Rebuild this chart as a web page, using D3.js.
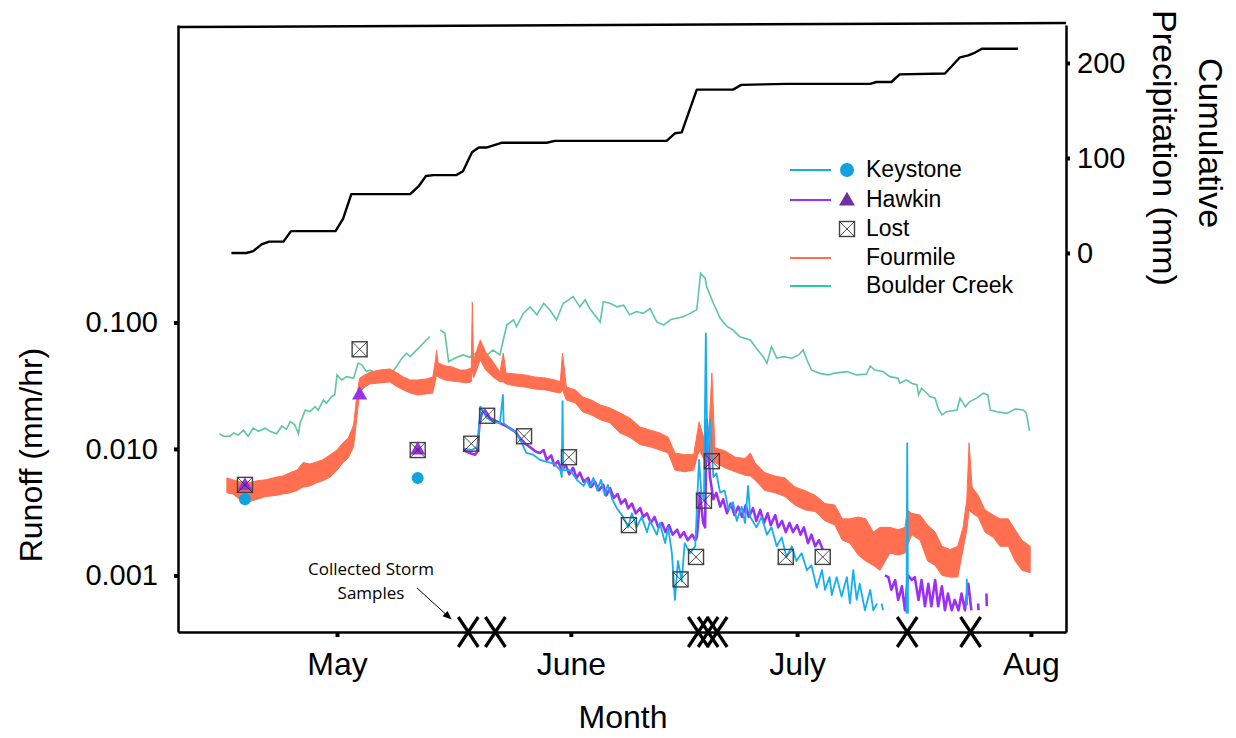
<!DOCTYPE html>
<html>
<head>
<meta charset="utf-8">
<script src="https://cdn.jsdelivr.net/npm/d3@7"></script>
<style>
body { margin: 0; background: #fff; }
svg { display: block; font-family: "Liberation Sans", Arial, sans-serif; }
</style>
</head>
<body>
<svg id="chart" width="1236" height="738"></svg>
<script>
// time is in days after 1 April
const monthT = [30, 61, 91, 122];
const monthLabels = ["May", "June", "July", "Aug"];
const runoffTicks = [0.001, 0.01, 0.1];
const precipTicks = [0, 100, 200];

const precipT = [16,18,18.9,20,21,22.9,23.9,29.8,30.8,31.9,39.7,40.8,41.8,42.8,45.8,46.7,47.9,48.8,49.8,51.8,57.8,58.9,60.9,73.7,74.8,75.7,77.7,82.5,83.6,89.6,100.7,101.5,103.5,104.6,110.6,112.6,113.7,114.6,115.5,120.3];
const precipMm = [0,0,2,9,12,12,23,23,36,62,62,70,81,82,82,86,106,111,111,116,116,118,118,118,126,127,172,172,177,178,178,180,180,188,189,206,208,211,215,215];

const boulderT = [14.4,14.9,15.8,16.3,16.9,17.6,18.2,18.9,19.6,20.5,
  21.1,22.0,22.7,23.3,23.8,24.4,24.9,25.1,25.8,26.4,
  27.1,27.5,28.2,28.6,29.3,29.7,30.0,30.6,31.3,32.2,
  32.8,33.3,33.9,34.4,35.3,36.1,37.0,37.9,38.6,39.2,
  39.7,41.0,42.3,43.0,43.7,44.3,44.8,45.6,46.7,47.6,
  49.0,49.9,50.7,51.6,52.1,52.5,53.4,53.8,54.7,55.6,
  56.5,57.4,58.2,59.1,60.0,60.7,61.3,62.2,62.9,63.5,
  64.9,65.3,66.2,67.1,68.0,68.8,69.7,70.6,71.5,72.4,
  73.3,74.2,75.0,75.9,76.8,77.7,78.2,78.8,79.0,79.9,
  80.8,81.7,82.5,83.4,84.8,85.6,86.5,87.0,87.6,88.3,
  89.2,90.3,91.2,91.8,92.3,92.9,94.0,95.1,95.8,97.6,
  98.9,100.2,100.7,101.3,102.4,103.3,104.4,104.6,105.5,106.2,
  106.9,107.1,107.5,108.2,108.6,109.3,109.7,110.2,110.8,112.2,
  112.6,113.3,113.9,114.8,115.7,116.3,116.6,117.5,118.8,119.9,
  121.0,121.4,121.8];
const boulderV = [0.0132,0.0126,0.0126,0.0134,0.0129,0.0141,0.0126,0.0146,0.0138,0.0146,
  0.0138,0.0132,0.0152,0.0143,0.0165,0.0155,0.0132,0.0160,0.0203,0.0197,
  0.0216,0.0203,0.0244,0.0230,0.0260,0.0267,0.0385,0.0351,0.0373,0.0362,
  0.0478,0.0462,0.0410,0.0421,0.0396,0.0421,0.0385,0.0448,0.0522,0.0571,
  0.0537,0.0644,0.0774,null,0.0872,0.0821,0.0490,0.0522,0.0554,0.0531,
  0.0606,0.0554,0.0606,0.0554,0.0750,0.0955,0.105,0.0926,0.118,0.133,
  0.115,0.142,0.126,0.105,0.142,0.151,0.160,0.133,0.151,0.129,
  0.101,0.146,0.142,0.133,0.137,0.115,0.122,0.118,0.129,0.101,
  0.0955,0.105,0.108,0.111,0.118,0.126,0.245,0.224,0.192,0.142,
  0.108,0.093,0.0872,0.0772,0.0727,0.0625,0.0537,0.0476,0.0644,0.0522,
  0.0537,0.0522,0.0554,0.0606,0.0506,0.0421,0.0396,0.0385,0.0396,0.0409,
  0.0385,0.0391,0.0453,0.0421,0.0409,0.0373,0.0362,0.0331,0.0351,0.0331,
  0.0321,0.0267,0.0302,0.0276,0.0260,0.0252,0.0209,0.0186,0.0197,0.0203,
  0.0252,0.0216,0.0237,0.0252,0.0276,0.0267,0.0203,0.0197,0.0191,0.0207,
  0.0203,0.0191,0.0139];

// Fourmile is a dense noisy record: kept as its upper and lower envelope
const fourmileT = [15.4,16.2,17.1,18.2,19.4,20.5,22.0,22.8,23.8,24.7,
  25.5,26.4,27.3,28.1,29.1,30.0,30.8,31.5,32.2,32.6,
  33.0,33.7,34.4,35.7,37.0,37.8,38.8,39.7,40.7,41.8,
  42.7,43.06,43.2,43.4,44.3,45.2,46.3,47.1,47.8,47.94,
  48.1,49.0,49.7,50.7,51.6,52.05,52.4,53.6,54.9,56.2,
  57.6,58.9,59.6,59.9,60.4,61.6,62.6,63.7,64.9,66.2,
  67.5,68.8,70.2,71.5,72.8,73.9,74.8,76.1,77.3,78.0,
  78.7,79.2,79.7,80.1,81.4,82.8,84.1,84.8,85.4,86.7,
  88.1,89.4,90.7,92.0,93.4,94.7,96.0,97.0,98.0,99.1,
  100.1,101.1,102.0,103.3,104.4,105.3,105.6,106.2,107.3,108.3,
  109.3,110.2,111.3,112.3,113.0,113.5,113.8,114.2,115.0,115.9,
  117.0,117.9,119.0,119.9,120.8,121.9];
const fourmileMax = [.0059,.0057,.0055,.0054,.0056,.0057,.0060,.0061,.0065,.0068,
  .0078,.0076,.0079,.0082,.0090,.0098,.0112,.0122,.0155,.0257,
  .0364,.0385,.0406,.0421,.0429,.0406,.0371,.0351,.0351,.0357,
  .0371,.0506,.0606,.0480,.0454,.0446,.0421,.0421,.0437,.145,
  .0506,.0727,.0585,.0488,.0406,.0574,.0399,.0392,.0385,.0371,
  .0364,.0351,.0339,.0574,.0309,.0293,.0257,.0244,.0223,.0211,
  .0193,.0176,.0149,.0141,.0134,.0124,.0093,.0090,.0091,.0164,
  .0118,.0104,.0399,.0102,.0097,.0086,.0084,.0093,.0078,.0065,
  .0061,.0059,.0050,.0047,.0043,.0037,.0036,.0028,.0028,.0029,
  .0028,.0022,.0024,.0024,.0023,.0024,.0033,.0031,.0030,.0025,
  .0022,.0017,.0016,.0017,.0024,.0040,.0112,.0050,.0043,.0033,
  .0030,.0028,.0028,.0023,.0019,.0017];
const fourmileMin = [.0045,.0044,.0040,.0038,.0040,.0042,.0043,.0044,.0045,.0047,
  .0050,.0051,.0054,.0056,.0060,.0068,.0078,.0085,.0104,.0170,
  .0282,.0309,.0327,.0333,.0339,.0315,.0293,.0277,.0267,.0272,
  .0277,.0351,.0385,.0371,.0351,.0345,.0339,.0333,.0339,.0421,
  .0364,.0506,.0421,.0371,.0339,.0339,.0327,.0315,.0309,.0298,
  .0293,.0282,.0277,.0293,.0244,.0231,.0196,.0186,.0170,.0161,
  .0134,.0124,.0108,.0104,.0098,.0093,.0068,.0066,.0068,.0098,
  .0082,.0079,.0082,.0078,.0071,.0066,.0062,.0061,.0057,.0047,
  .0045,.0042,.0036,.0033,.0032,.0027,.0025,.0019,.0018,.00145,
  .0013,.0012,.0011,.0015,.00145,.0015,.0017,.0021,.0019,.0013,
  .0012,.0010,.00097,.00097,.0016,.0023,.0033,.0031,.0029,.0022,
  .0020,.0017,.0017,.0013,.0011,.00105];

const hawkinT = [46.7,47.6,48.3,48.6,48.9,49.2,49.6,50.3,51.2,51.8,
  52.5,53.6,54.3,54.9,55.8,56.4,56.9,57.4,57.8,58.4,
  58.8,59.3,59.8,60.3,60.8,61.3,61.75,62.2,62.7,63.3,
  63.7,64.2,64.7,65.3,65.7,66.2,66.7,67.2,67.65,68.2,
  68.6,69.1,69.6,70.2,70.6,71.1,71.6,72.1,72.6,73.1,
  73.55,74.0,74.5,75.1,75.5,76.0,76.5,77.1,77.5,77.7,
  77.9,78.1,78.55,78.8,79.0,79.45,79.9,80.3,80.8,81.2,
  81.7,82.2,82.7,83.2,83.7,84.2,84.6,85.15,85.6,86.1,
  86.6,87.1,87.5,88.1,88.5,89.0,89.5,90.0,90.45,91.0,
  91.45,91.9,92.45,92.9,93.4,93.9,94.4,94.6,102.65,103.1,
  103.5,104.0,104.4,104.9,105.3,105.7,106.2,106.6,107.1,107.5,
  107.95,108.4,108.8,109.3,109.7,110.2,110.6,111.0,111.5,111.9,
  112.4,112.8,113.25,113.7,114.1,114.5,115.0,115.05,115.5,116.1,
  116.15];
const hawkinV = [0.0098,0.0093,0.0090,0.0095,0.0160,0.0192,0.0203,0.0175,0.0165,0.0158,
  0.0151,0.0137,0.0121,0.0111,0.0101,0.0095,0.0093,0.0098,0.0082,0.0089,
  0.0074,0.0080,0.0068,0.0075,0.0063,0.0071,0.0059,0.0065,0.0055,0.0059,
  0.0050,0.0055,0.0047,0.0052,0.0043,0.0049,0.0041,0.0044,0.0037,0.0040,
  0.0034,0.0037,0.0031,0.0034,0.0029,0.0031,0.0026,0.0029,0.0024,0.0026,
  0.0022,0.0025,0.0021,0.0023,0.0020,0.0022,0.0019,0.0021,0.0019,0.0020,
  0.0027,0.0045,0.0026,0.0024,0.0170,0.0060,0.0040,0.0045,0.0035,0.0040,
  0.0031,0.0037,0.0030,0.0035,0.0029,0.0036,0.0029,0.0034,0.0027,0.0033,
  0.0026,0.0031,0.0025,0.0030,0.0024,0.0027,0.0022,0.0026,0.0022,0.0025,
  0.0021,0.0024,0.0018,0.0021,0.0017,0.0019,0.0016,null,0.0010,0.00097,
  0.00077,0.00092,0.00064,0.00082,0.00053,0.0010,0.00092,0.00097,0.00064,0.00092,
  0.00057,0.00086,0.00057,0.00092,0.00057,0.00082,0.00053,0.00072,0.00053,0.00064,
  0.00053,0.00072,0.00053,0.00086,0.00053,null,0.0006,0.00053,null,0.00072,
  0.00057];

const keystoneT = [46.7,47.9,48.7,49.0,49.3,49.8,50.7,51.6,52.0,52.1,
  52.9,53.8,54.5,55.1,56.0,56.9,57.8,58.7,59.6,59.8,
  59.9,60.0,60.9,61.8,62.7,63.1,63.5,64.0,64.5,65.0,
  65.5,65.9,66.5,67.1,67.95,68.6,69.1,69.7,70.4,71.1,
  71.5,72.4,72.8,73.5,73.9,74.4,74.8,75.2,75.7,76.1,
  76.8,77.5,77.8,78.0,78.3,78.65,78.9,79.1,79.45,79.9,
  80.3,80.8,81.4,81.9,82.5,83.0,83.65,84.1,84.5,84.8,
  85.6,86.3,87.0,87.6,88.3,88.95,89.6,90.3,90.9,91.6,
  92.3,92.9,93.6,94.3,94.7,95.3,95.6,96.25,96.9,97.6,
  98.0,98.45,98.9,99.3,100.0,100.7,101.1,101.6,101.9,102.2,
  102.4,102.6,105.5,105.6,105.7,105.9,113.45,113.5,113.55];
const keystoneV = [0.0101,0.0098,0.0105,0.0216,0.0203,0.0177,0.0163,0.0160,0.0267,0.0160,
  0.0146,0.0134,0.0111,0.0093,0.0090,0.0082,0.0079,0.0077,0.0068,0.0060,
  0.0239,0.0068,0.0068,0.0057,0.0051,0.0057,0.0050,0.0059,0.0047,0.0057,
  0.0043,0.0052,0.0040,0.0034,0.0029,0.0024,0.0031,0.0024,0.0029,0.0022,
  0.0027,0.0021,0.0026,0.0018,0.0024,0.0015,0.00064,0.0013,0.0009,0.0018,
  0.0015,0.0017,0.0045,0.0082,0.0045,0.0040,0.0821,0.0082,0.0170,0.0060,
  0.0064,0.0045,0.0047,0.0033,0.0038,0.0027,0.0035,0.0026,0.0051,0.0029,
  0.0024,0.0029,0.0021,0.0024,0.0017,0.0020,0.0014,0.0017,0.0013,0.0015,
  0.0011,0.0012,0.0008,0.0011,0.00077,0.00097,0.0007,0.00097,0.00068,0.00097,
  0.0006,0.0011,0.00064,0.00086,0.00053,0.00077,0.00053,0.0006,null,0.0006,
  0.00053,null,0.0005,0.0111,0.0005,null,0.00058,0.00093,0.00058];

const keystoneMarkT = [17.8, 40.7];
const keystoneMarkV = [0.0040, 0.0059];
const hawkinMarkT = [17.8, 33.0, 40.7];
const hawkinMarkV = [0.0051, 0.0267, 0.0098];
const lostT = [17.8,33.0,40.7,47.8,49.9,54.8,60.75,68.7,75.55,77.6,78.65,79.7,89.5,94.4];
const lostV = [0.0052,0.0614,0.0098,0.0110,0.0183,0.0126,0.0086,0.0025,0.00093,0.0014,0.0039,0.0080,0.0014,0.0014];
const stormT = [47.4, 51.0, 77.9, 79.2, 80.4, 105.6, 114.0];

const legendNames = ["Keystone", "Hawkin", "Lost", "Fourmile", "Boulder Creek"];

const svg = d3.select("#chart");
const day0 = new Date(2019, 3, 1);
const toDate = t => new Date(day0.getTime() + t * 864e5);

const plotL = 178, plotR = 1066, plotT = 25, plotB = 632;
const x = d3.scaleTime().domain([toDate(8.92), toDate(126.65)]).range([plotL, plotR]);
const yL = d3.scaleLog().domain([0.000357, 22.5]).range([plotB, plotT]);
const yR = d3.scaleLinear().domain([-399, 240]).range([plotB, plotT]);

const pts = (T, V) => T.map((t, i) => ({ t: toDate(t), v: V[i] }));
const runoffLine = d3.line().defined(d => d.v != null).x(d => x(d.t)).y(d => yL(d.v));

const colKey = "#16aeee", colKeyMark = "#12a2df";
const colHawk = "#9b30f2", colHawkMark = "#9a32e4", colHawkLegend = "#7030a0";
const colFour = "#ff6f50";
const colBoulder = "#5ec79f", colBoulderLegend = "#24cf9c";

// cumulative precipitation
svg.append("path")
  .datum(pts(precipT, precipMm))
  .attr("d", d3.line().x(d => x(d.t)).y(d => yR(d.v)))
  .attr("fill", "none").attr("stroke", "#000").attr("stroke-width", 2.4)
  .attr("stroke-linejoin", "round");

// Boulder Creek
svg.append("path")
  .datum(pts(boulderT, boulderV))
  .attr("d", runoffLine)
  .attr("fill", "none").attr("stroke", colBoulder).attr("stroke-width", 1.6);

// Fourmile envelope
const fm = fourmileT.map((t, i) => ({ t: toDate(t), hi: fourmileMax[i], lo: fourmileMin[i] }));
svg.append("path")
  .datum(fm)
  .attr("d", d3.area().x(d => x(d.t)).y0(d => yL(d.lo)).y1(d => yL(d.hi)))
  .attr("fill", colFour).attr("stroke", colFour).attr("stroke-width", 1)
  .attr("stroke-linejoin", "round");

// Hawkin
svg.append("path")
  .datum(pts(hawkinT, hawkinV))
  .attr("d", runoffLine)
  .attr("fill", "none").attr("stroke", colHawk).attr("stroke-width", 2.6)
  .attr("stroke-linejoin", "round");

// Keystone
svg.append("path")
  .datum(pts(keystoneT, keystoneV))
  .attr("d", runoffLine)
  .attr("fill", "none").attr("stroke", colKey).attr("stroke-width", 1.8)
  .attr("stroke-linejoin", "round");

// grab-sample markers
svg.selectAll(".kmark").data(pts(keystoneMarkT, keystoneMarkV)).join("circle")
  .attr("cx", d => x(d.t)).attr("cy", d => yL(d.v)).attr("r", 6)
  .attr("fill", colKeyMark);

svg.selectAll(".hmark").data(pts(hawkinMarkT, hawkinMarkV)).join("path")
  .attr("transform", d => `translate(${x(d.t)},${yL(d.v)})`)
  .attr("d", d3.symbol(d3.symbolTriangle, 100))
  .attr("fill", colHawkMark);

function lostBox(g, s) {
  g.append("rect").attr("x", -s / 2).attr("y", -s / 2).attr("width", s).attr("height", s)
    .attr("fill", "none").attr("stroke", "#444").attr("stroke-width", 1.4);
  g.append("path").attr("d", `M${-s/2},${-s/2}L${s/2},${s/2}M${s/2},${-s/2}L${-s/2},${s/2}`)
    .attr("stroke", "#222").attr("stroke-width", 0.8);
}
svg.selectAll(".lost").data(pts(lostT, lostV)).join("g")
  .attr("transform", d => `translate(${x(d.t)},${yL(d.v)})`)
  .each(function () { lostBox(d3.select(this), 15); });

// axes
const axL = svg.append("g").attr("transform", `translate(${plotL},0)`)
  .call(d3.axisLeft(yL).tickValues(runoffTicks).tickFormat(d3.format(".3f"))
    .tickSize(4).tickSizeOuter(0).tickPadding(16));
const axR = svg.append("g").attr("transform", `translate(${plotR},0)`)
  .call(d3.axisRight(yR).tickValues(precipTicks).tickSize(4).tickSizeOuter(0).tickPadding(7));
const axB = svg.append("g").attr("transform", `translate(0,${plotB})`)
  .call(d3.axisBottom(x).tickValues(monthT.map(toDate)).tickFormat((d, i) => monthLabels[i])
    .tickSize(5).tickSizeOuter(0).tickPadding(15));
[axL, axR, axB].forEach(a => {
  a.select(".domain").attr("stroke-width", 2.5);
  a.selectAll(".tick line").attr("stroke-width", 4);
  a.selectAll("text").attr("fill", "#000").style("font-family", "'Liberation Sans', Arial, sans-serif");
});
axL.selectAll("text").style("font-size", "29px");
axR.selectAll("text").style("font-size", "29px");
axB.selectAll("text").style("font-size", "32px");

svg.append("path").attr("d", `M${plotL},27L${plotR},23`)
  .attr("stroke", "#000").attr("stroke-width", 2.5);

// storm sample markers on the time axis
svg.selectAll(".storm").data(stormT.map(toDate)).join("path")
  .attr("d", d => { const c = x(d); return `M${c-10},617L${c+10},647M${c+10},617L${c-10},647`; })
  .attr("stroke", "#000").attr("stroke-width", 3.2).attr("fill", "none");

// annotation
const note = svg.append("text").attr("text-anchor", "middle")
  .style("font-family", "'Open Sans', sans-serif").style("font-size", "17px");
note.append("tspan").attr("x", 371).attr("y", 575).text("Collected Storm");
note.append("tspan").attr("x", 371).attr("y", 599).text("Samples");
svg.append("defs").append("marker").attr("id", "ah")
  .attr("viewBox", "0 0 10 10").attr("refX", 9).attr("refY", 5)
  .attr("markerWidth", 9).attr("markerHeight", 9).attr("orient", "auto")
  .append("path").attr("d", "M0,1L10,5L0,9Z").attr("fill", "#000");
svg.append("line").attr("x1", 417).attr("y1", 588).attr("x2", 451).attr("y2", 619)
  .attr("stroke", "#000").attr("stroke-width", 1).attr("marker-end", "url(#ah)");

// axis titles
svg.append("text").attr("transform", "translate(42,455) rotate(-90)")
  .attr("text-anchor", "middle").style("font-size", "32px").text("Runoff (mm/hr)");
svg.append("text").attr("x", 623).attr("y", 728)
  .attr("text-anchor", "middle").style("font-size", "32px").text("Month");
svg.append("text").attr("transform", "translate(1199,143) rotate(90)")
  .attr("text-anchor", "middle").style("font-size", "34px").text("Cumulative");
svg.append("text").attr("transform", "translate(1153,148) rotate(90)")
  .attr("text-anchor", "middle").style("font-size", "34px").text("Precipitation (mm)");

// legend
const legY = [170, 200, 229, 258, 286];
const lg = svg.append("g");
const legLines = [colKey, colHawk, null, colFour, colBoulderLegend];
legLines.forEach((c, i) => {
  if (c) lg.append("line").attr("x1", 790).attr("x2", 831).attr("y1", legY[i]).attr("y2", legY[i])
    .attr("stroke", c).attr("stroke-width", 2);
});
lg.append("circle").attr("cx", 847).attr("cy", legY[0]).attr("r", 7).attr("fill", colKeyMark);
lg.append("path").attr("transform", `translate(847,${legY[1] + 1})`)
  .attr("d", d3.symbol(d3.symbolTriangle, 110)).attr("fill", colHawkLegend);
lostBox(lg.append("g").attr("transform", `translate(847,${legY[2]})`), 15);
legendNames.forEach((n, i) => {
  lg.append("text").attr("x", 866).attr("y", legY[i] + 7).style("font-size", "23px").text(n);
});
</script>
</body>
</html>
